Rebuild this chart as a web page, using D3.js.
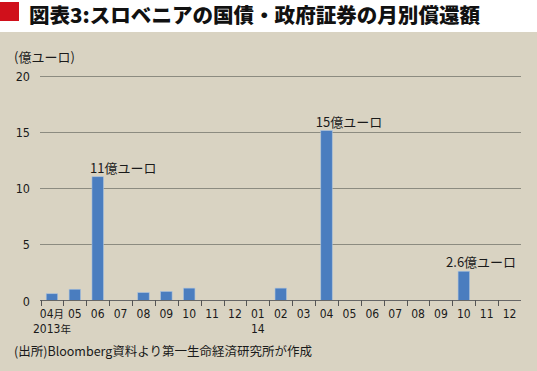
<!DOCTYPE html>
<html><head><meta charset="utf-8">
<script src="https://cdn.jsdelivr.net/npm/d3@7"></script>
<style>
body{margin:0;padding:0;background:#fff;}
svg{display:block;}
text{font-family:"DejaVu Sans Condensed","DejaVu Sans",sans-serif;font-stretch:condensed;fill:#1a1a1a;}
tspan.cjk{font-family:"Noto Sans CJK JP",sans-serif;font-stretch:normal;}
</style></head><body>
<script>
const months = ["04月","05","06","07","08","09","10","11","12","01","02","03","04","05","06","07","08","09","10","11","12"];
const yearLabels = ["2013年","","","","","","","","","14","","","","","","","","","","",""];
const values = [0.6,1.0,11.0,0,0.7,0.8,1.1,0,0,0,1.1,0,15.1,0,0,0,0,0,2.6,0,0];
const yTicks = [0,5,10,15,20];
const annotations = [
  {i:2, text:"11億ユーロ", dx:-2},
  {i:12, text:"15億ユーロ", dx:-5},
  {i:18, text:"2.6億ユーロ", dx:-12}
];
const title = "図表3:スロベニアの国債・政府証券の月別償還額";
const unitLabel = "(億ユーロ)";
const source = "(出所)Bloomberg資料より第一生命経済研究所が作成";

const W=537,H=371;
const svg=d3.select("body").append("svg").attr("width",W).attr("height",H);
svg.append("rect").attr("x",0).attr("y",0).attr("width",W).attr("height",H).attr("fill","#fff");
svg.append("rect").attr("x",0).attr("y",32).attr("width",W).attr("height",H-32).attr("fill","#d9d3c2");
svg.append("rect").attr("x",0).attr("y",2).attr("width",19).attr("height",19).attr("fill","#d0101b");
svg.append("text").attr("x",29).attr("y",23.2).attr("textLength",451).attr("lengthAdjust","spacingAndGlyphs")
  .style("font-family","'Noto Sans CJK JP',sans-serif").style("font-stretch","normal").style("font-weight","900").style("font-size","20px").style("fill","#111").text(title);

const x=d3.scaleBand().domain(d3.range(months.length)).range([40.5,521]).paddingInner(0.5).paddingOuter(0.25);
const y=d3.scaleLinear().domain([0,20]).range([300.5,75.5]);
const step=x.step();

// gridlines
svg.append("g").selectAll("line").data(yTicks.filter(d=>d>0)).join("line")
  .attr("x1",40).attr("x2",521).attr("y1",d=>Math.round(y(d))+0.5).attr("y2",d=>Math.round(y(d))+0.5)
  .attr("stroke","#8c8b80").attr("stroke-width",1);
// y labels
svg.append("g").selectAll("text").data(yTicks).join("text")
  .attr("x",30).attr("y",d=>y(d)+5).attr("text-anchor","end").style("font-size","12.5px").text(d=>d);
svg.append("text").attr("x",14).attr("y",62).style("font-size","13px").style("font-family","'Noto Sans CJK JP',sans-serif").style("font-stretch","normal").text(unitLabel);

// bars
svg.append("g").selectAll("rect").data(values).join("rect")
  .attr("x",(d,i)=>x(i)).attr("width",x.bandwidth())
  .attr("y",d=>y(d)).attr("height",d=>y(0)-y(d))
  .attr("fill","#4a7dbf").attr("stroke","#a7c0de").attr("stroke-width",0.6);

// axis
svg.append("line").attr("x1",40).attr("x2",521).attr("y1",300.5).attr("y2",300.5).attr("stroke","#666").attr("stroke-width",1.2);
svg.append("g").selectAll("line").data(d3.range(months.length)).join("line")
  .attr("x1",i=>Math.round(x(i)-step*0.25)+0.5).attr("x2",i=>Math.round(x(i)-step*0.25)+0.5)
  .attr("y1",300).attr("y2",306).attr("stroke","#555").attr("stroke-width",1);

function splitLabel(sel){
  sel.each(function(d){
    const t=d3.select(this);
    const m=d.match(/^([0-9.]*)(.*)$/);
    t.append("tspan").text(m[1]);
    if(m[2]) t.append("tspan").attr("class","cjk").style("font-size","10.5px").text(m[2]);
  });
}
svg.append("g").selectAll("text").data(months).join("text")
  .attr("x",(d,i)=>x(i)+x.bandwidth()/2).attr("y",318).attr("text-anchor","middle").style("font-size","12px").call(splitLabel);
svg.append("g").selectAll("text").data(yearLabels.map((d,i)=>({d,i})).filter(o=>o.d)).join("text")
  .attr("x",o=>x(o.i)+x.bandwidth()/2).attr("y",333).attr("text-anchor","middle").style("font-size","12px")
  .each(function(o){d3.select(this).datum(o.d);}).call(splitLabel);

// annotations
svg.append("g").selectAll("text").data(annotations).join("text")
  .attr("x",d=>x(d.i)+d.dx).attr("y",d=>y(values[d.i])-4).style("font-size","13px")
  .style("font-family","'Noto Sans CJK JP',sans-serif").style("font-stretch","normal").text(d=>d.text);

svg.append("text").attr("x",14).attr("y",356).style("font-size","12.5px").style("font-family","'Noto Sans CJK JP',sans-serif").style("font-stretch","normal").text(source);
</script></body></html>
